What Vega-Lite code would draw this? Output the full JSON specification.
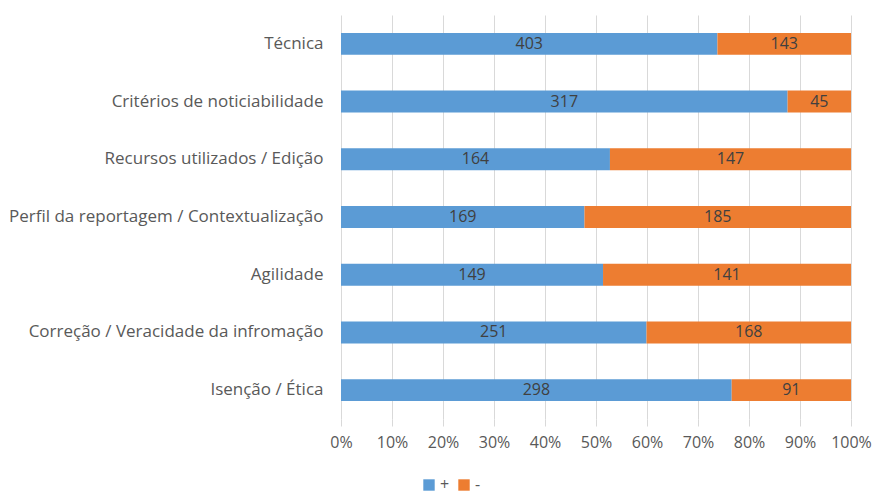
{
  "$schema": "https://vega.github.io/schema/vega-lite/v6.json",
  "autosize": {"type": "none"},
  "width": 510,
  "height": 404,
  "padding": {"left": 341, "top": 15, "right": 24, "bottom": 74},
  "background": "white",
  "config": {
    "font": "Open Sans",
    "view": {"stroke": null}
  },
  "data": {
    "values": [
      {"cat": "Técnica\u00a0\u00a0", "sign": "+", "n": 403},
      {"cat": "Técnica\u00a0\u00a0", "sign": "-", "n": 143},
      {"cat": "Critérios de noticiabilidade", "sign": "+", "n": 317},
      {"cat": "Critérios de noticiabilidade", "sign": "-", "n": 45},
      {"cat": "Recursos utilizados / Edição", "sign": "+", "n": 164},
      {"cat": "Recursos utilizados / Edição", "sign": "-", "n": 147},
      {"cat": "Perfil da reportagem / Contextualização", "sign": "+", "n": 169},
      {"cat": "Perfil da reportagem / Contextualização", "sign": "-", "n": 185},
      {"cat": "Agilidade", "sign": "+", "n": 149},
      {"cat": "Agilidade", "sign": "-", "n": 141},
      {"cat": "Correção / Veracidade da infromação", "sign": "+", "n": 251},
      {"cat": "Correção / Veracidade da infromação", "sign": "-", "n": 168},
      {"cat": "Isenção / Ética", "sign": "+", "n": 298},
      {"cat": "Isenção / Ética", "sign": "-", "n": 91}
    ]
  },
  "transform": [
    {"calculate": "datum.sign === '+' ? 0 : 1", "as": "ord"},
    {"stack": "n", "groupby": ["cat"], "sort": [{"field": "ord"}], "offset": "normalize", "as": ["x0", "x1"]},
    {"calculate": "(datum.x0 + datum.x1) / 2", "as": "xm"}
  ],
  "encoding": {
    "y": {
      "field": "cat",
      "type": "nominal",
      "sort": null,
      "scale": {"paddingInner": 0.62, "paddingOuter": 0.31},
      "axis": {
        "title": null,
        "domain": false,
        "ticks": false,
        "labelFontSize": 17,
        "labelColor": "#595959",
        "labelPadding": 18,
        "labelLimit": 400
      }
    }
  },
  "layer": [
    {
      "mark": {"type": "bar"},
      "encoding": {
        "x": {
          "field": "x0",
          "type": "quantitative",
          "scale": {"domain": [0, 1], "nice": false},
          "axis": {
            "title": null,
            "format": ".0%",
            "values": [0, 0.1, 0.2, 0.3, 0.4, 0.5, 0.6, 0.7, 0.8, 0.9, 1],
            "labelOverlap": false,
            "labelFlush": false,
            "domain": false,
            "grid": true,
            "gridColor": "#d9d9d9",
            "tickColor": "#d9d9d9",
            "tickSize": 7,
            "labelFontSize": 16,
            "labelColor": "#595959",
            "labelPadding": 8
          }
        },
        "x2": {"field": "x1"},
        "color": {
          "field": "sign",
          "type": "nominal",
          "scale": {"domain": ["+", "-"], "range": ["#5B9BD5", "#ED7D31"]},
          "legend": {
            "title": null,
            "orient": "none",
            "legendX": 80,
            "legendY": 462,
            "padding": 0,
            "direction": "horizontal",
            "symbolType": "square",
            "symbolSize": 130,
            "symbolStrokeWidth": 0,
            "labelFontSize": 16,
            "labelColor": "#595959",
            "labelBaseline": "middle",
            "columnPadding": 6,
            "labelOffset": 3
          }
        }
      }
    },
    {
      "mark": {"type": "text", "fontSize": 16, "color": "#404040", "baseline": "middle"},
      "encoding": {
        "x": {"field": "xm", "type": "quantitative"},
        "text": {"field": "n", "type": "quantitative"}
      }
    }
  ]
}
